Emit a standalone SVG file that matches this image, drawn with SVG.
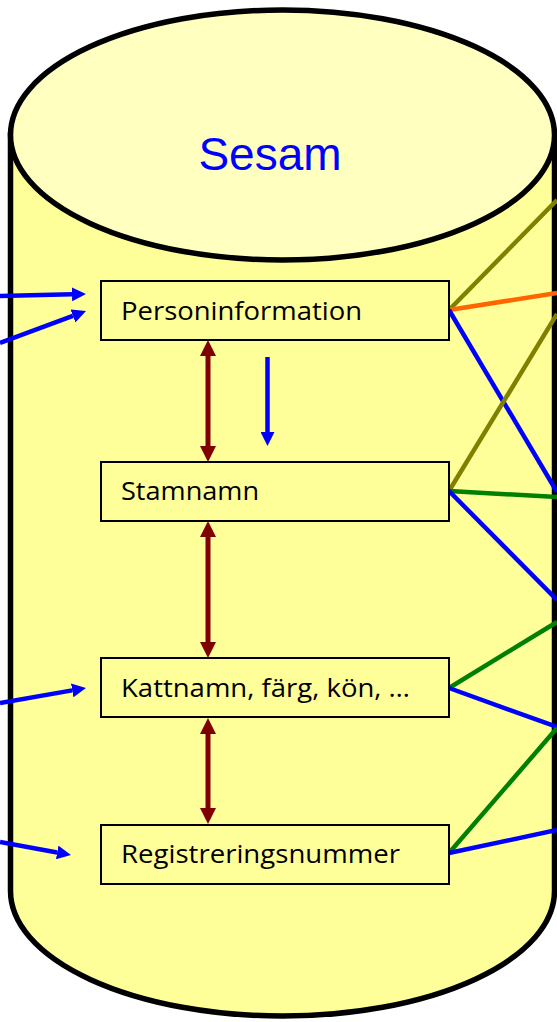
<svg xmlns="http://www.w3.org/2000/svg" width="557" height="1022" viewBox="0 0 557 1022">
<style>
.box{fill:#FFFF99;stroke:#000;stroke-width:2}
.lbl{font-family:"Open Sans","Liberation Sans",sans-serif;font-size:26px;fill:#000}
.blue{stroke:#0000FF;stroke-width:4.5;fill:none}
.red{stroke:#800000;stroke-width:5;fill:none}
.ln{stroke-width:4.5;fill:none}
</style>
<defs>
<marker id="hb" markerUnits="userSpaceOnUse" markerWidth="14" markerHeight="14" refX="0" refY="7" orient="auto"><path d="M0,0 L14,7 L0,14 z" fill="#0000FF"/></marker>
<marker id="hr" markerUnits="userSpaceOnUse" markerWidth="16" markerHeight="16" refX="0" refY="8" orient="auto-start-reverse"><path d="M0,0 L16,8 L0,16 z" fill="#800000"/></marker>
</defs>
<g id="sesam">
<path d="M10.5,135 L10.5,891 A272,125 0 0 0 554.5,891 L554.5,135 Z" fill="#FFFF99" stroke="#000" stroke-width="5.5"/>
<ellipse cx="282.5" cy="135" rx="272" ry="125" fill="#FFFFC0" stroke="#000" stroke-width="5.5"/>
<text x="270" y="170" text-anchor="middle" font-family="Liberation Sans,Arial,sans-serif" font-size="46" fill="#0000FF">Sesam</text>
</g>
<g id="connectors">
<line class="ln" x1="449" y1="310" x2="557" y2="200" stroke="#808000"/>
<line class="ln" x1="449" y1="310" x2="557" y2="293" stroke="#FF6600"/>
<line class="ln" x1="449" y1="310" x2="557" y2="492" stroke="#0000FF"/>
<line class="ln" x1="449" y1="491" x2="557" y2="314" stroke="#808000"/>
<line class="ln" x1="449" y1="491" x2="557" y2="497" stroke="#008000"/>
<line class="ln" x1="449" y1="491" x2="557" y2="600" stroke="#0000FF"/>
<line class="ln" x1="449" y1="688" x2="557" y2="622" stroke="#008000"/>
<line class="ln" x1="449" y1="688" x2="557" y2="727" stroke="#0000FF"/>
<line class="ln" x1="449" y1="853" x2="557" y2="728" stroke="#008000"/>
<line class="ln" x1="449" y1="853" x2="557" y2="830" stroke="#0000FF"/>
<line class="blue" x1="0" y1="296" x2="72" y2="294.3" marker-end="url(#hb)"/>
<line class="blue" x1="0" y1="343" x2="72.9" y2="315.9" marker-end="url(#hb)"/>
<line class="blue" x1="0" y1="703" x2="72.2" y2="690.4" marker-end="url(#hb)"/>
<line class="blue" x1="0" y1="842" x2="57.2" y2="852.5" marker-end="url(#hb)"/>
<line class="blue" x1="267.5" y1="357" x2="267.5" y2="432" marker-end="url(#hb)"/>
<line class="red" x1="208" y1="356" x2="208" y2="446" marker-start="url(#hr)" marker-end="url(#hr)"/>
<line class="red" x1="208" y1="537" x2="208" y2="642" marker-start="url(#hr)" marker-end="url(#hr)"/>
<line class="red" x1="208" y1="734" x2="208" y2="808" marker-start="url(#hr)" marker-end="url(#hr)"/>
</g>
<g id="personinformation">
<rect class="box" x="101" y="281" width="348" height="59"/>
<text class="lbl" x="121" y="320" textLength="241" lengthAdjust="spacingAndGlyphs">Personinformation</text>
</g>
<g id="stamnamn">
<rect class="box" x="101" y="462" width="348" height="59"/>
<text class="lbl" x="121" y="500" textLength="138" lengthAdjust="spacingAndGlyphs">Stamnamn</text>
</g>
<g id="kattnamn">
<rect class="box" x="101" y="658" width="348" height="59"/>
<text class="lbl" x="121" y="697" textLength="289" lengthAdjust="spacingAndGlyphs">Kattnamn, färg, kön, …</text>
</g>
<g id="registreringsnummer">
<rect class="box" x="101" y="825" width="348" height="59"/>
<text class="lbl" x="121" y="863" textLength="279" lengthAdjust="spacingAndGlyphs">Registreringsnummer</text>
</g>
</svg>
